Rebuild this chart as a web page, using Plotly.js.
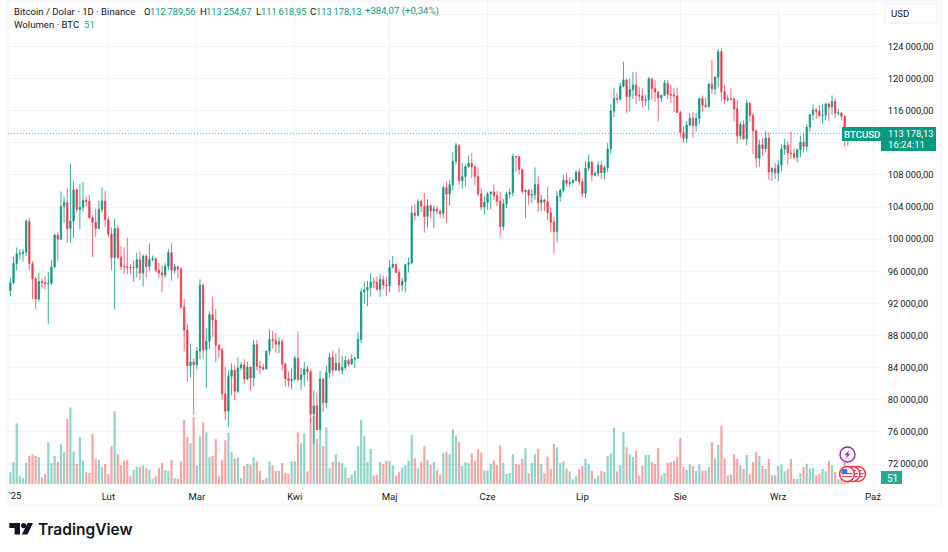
<!DOCTYPE html>
<html lang="pl">
  <head>
    <meta charset="UTF-8" />
    <title>BTCUSD</title>
    <script src="https://cdn.plot.ly/plotly-3.0.1.min.js"></script>
    <style>
      body { margin: 0; background: #fff; }
      #chart { width: 948px; height: 552px; }
    </style>
  </head>
  <body>
    <div id="chart"></div>
    <script>
      // daily candles from 2025-01-01 to 2025-09-23
      const firstDay = "2025-01-01";
      const opens = [
        93576,94591,96984,98174,98220,98363,102235,96954,95060,92552,94726,94599,94488,94516,96534,100504,99987,104077,104556,101331,102260,106143,103706,103960,104819,104714,102682,102087,101332,103703,104735,
        102429,100635,97700,101328,97763,96612,96554,96506,96444,96462,97430,95778,97869,96608,97500,97569,96118,95780,95539,96635,98333,96125,96577,96273,91552,88680,84250,84708,
        84349,86064,94270,86220,87281,90606,89931,86801,86222,80734,78595,82932,83680,81067,83969,84343,82579,84075,82718,86854,84167,84043,83832,86054,87498,87392,86909,87232,84424,82648,82390,
        82550,85159,82516,83102,83843,83504,78214,79235,76271,82573,79627,83404,85287,83684,84542,83669,84033,84895,84450,85063,85174,87518,93442,93691,93980,94638,94628,93750,94978,94284,
        94207,96489,96887,95856,94277,94733,96834,97032,103241,102970,104696,104107,102812,104169,103539,103744,103489,103191,106446,105606,106791,109678,111673,107287,107791,109035,109440,108994,107802,105641,103998,
        104591,105642,105882,105432,104731,101575,104390,105615,105793,110294,110257,108686,105929,106090,105472,105552,106794,104551,104886,104658,103297,102120,100963,105333,106083,107340,106947,107047,107296,108356,
        107146,105681,108849,109584,107984,108198,109203,108262,108922,111233,115968,117516,117435,119086,119841,117758,118630,119177,117924,117840,117265,117380,119954,118755,118340,117614,117919,119415,118062,117950,117840,
        115764,113297,112546,114208,115071,114141,115028,117496,116688,116498,119306,118731,120172,123344,118359,117398,117491,117453,116252,112872,114271,112500,116935,115438,113493,110111,111763,111262,112566,108377,108816,
        108246,109237,111240,111705,110730,110659,110187,111137,112065,111546,113960,115507,116101,115950,115407,115444,116843,116468,117137,115688,115721,115306,112789.56,
      ];
      const highs = [
        95151,97839,98976,98735,98813,102482,102712,97258,95349,95836,95050,95400,95900,97371,100681,100866,105950,105300,106422,109400,107240,106394,106850,107120,105286,105500,103000,103800,104800,106457,106012,
        102783,101456,102500,101700,99120,99000,100137,96880,97323,98345,98478,98119,98119,99475,97970,97725,97046,96753,97000,98800,99500,96900,96650,96500,92540,89400,87000,85120,
        86558,95000,94416,88911,91000,92810,91283,86893,86500,84123,83617,84539,84336,85309,84672,85051,84756,84075,87453,87443,84850,84513,86094,88765,88542,88292,87756,87515,84624,83534,83943,
        85487,88500,83942,84720,84230,83704,81119,80867,83588,82700,84247,85856,86100,85785,86496,85500,85470,85100,85677,85320,88460,93888,94696,94785,95758,95199,95369,95630,95461,95228,
        97437,97895,96935,96304,95199,96920,97732,104145,104361,104984,104937,105747,104997,104362,104192,104150,103711,106660,107108,107320,110797,111980,111800,109500,109300,110422,110718,109313,108910,106313,105350,
        105900,105941,106800,106000,105900,105000,105970,106300,110620,110400,110400,108800,106182,106210,106200,108952,107771,105550,105000,106500,104000,102800,106000,106300,108000,108272,107700,107500,108530,108800,
        107550,109750,110500,109750,108450,109700,109700,109200,111980,116800,118870,118200,119450,122100,119940,120000,120800,120850,118950,118856,118000,120200,120100,119800,118500,118000,119800,119800,119250,118800,118900,
        116000,114000,114700,115700,115800,115700,117600,117900,117630,119450,122300,120300,123700,123800,119200,118000,118780,117600,117300,114600,114800,117400,117000,115700,113700,112400,112600,113500,113300,108950,109500,
        109900,111800,112500,112200,113400,111300,111300,112900,113250,114300,115600,116800,116300,116700,116800,117000,117000,117900,117500,116200,115800,115400,113254.67,
      ];
      const lows = [
        92870,94392,96100,97500,97232,97900,96132,92500,91220,92206,93831,93712,89470,94306,96500,97300,99950,102000,99518,99560,100119,103339,101262,103500,104106,102520,97777,100272,101328,103321,101560,
        100279,96150,91231,97500,96155,95650,95620,95688,94713,95256,94876,94088,95217,96000,97200,95900,95205,93388,95200,96155,94830,95700,95130,91300,86050,82256,82786,78140,
        83824,85050,85117,81500,86334,87836,84667,85218,80000,77459,76606,80607,79939,80818,83639,81981,82456,81134,81669,83647,83175,83674,83794,85541,86346,85861,85800,83585,81644,81565,81278,
        82429,82320,81211,81659,82372,77153,74508,76239,74620,78464,78936,82769,83030,83690,83600,83111,83736,84120,84364,83949,85143,87076,91935,91660,92855,93870,93602,92800,93742,92910,
        93400,96350,95753,93377,93514,93377,95840,96876,102315,102817,103346,100818,101461,102602,101383,103100,102612,102600,102000,104170,106100,109285,106800,106262,106600,108900,107569,106761,105322,103621,103080,
        103700,103700,104900,104150,100372,101100,103900,105070,105330,108350,108100,105671,102664,104300,104500,104900,103400,103500,103500,102345,100837,98200,99600,104650,105800,106600,106500,106800,107200,106750,
        105250,105100,108500,107250,107800,107800,107500,107460,108350,110600,115200,116900,117250,118900,115736,115900,117450,116850,117200,116450,116600,116100,117300,117100,114700,117100,117800,117400,116950,115800,115700,
        112700,112000,111920,114100,112650,113400,114300,115900,116400,116450,118100,118000,118900,117200,116800,117100,117250,114700,111900,112450,112400,111700,114650,110600,108900,109000,110400,110800,107400,107300,107500,
        107250,108400,110500,109300,109950,109900,109600,110200,110800,110900,113400,114800,115000,115200,114400,114800,114700,115500,115100,115400,114800,111500,111618.95,
      ];
      const closes = [
        94591,96984,98174,98220,98363,102235,96954,95060,92552,94726,94599,94488,94516,96534,100504,99987,104077,104556,101331,102260,106143,103706,103960,104819,104714,102682,102087,101332,103703,104735,102429,
        100635,97700,101328,97763,96612,96554,96506,96444,96462,97430,95778,97869,96608,97500,97569,96118,95780,95539,96635,98333,96125,96577,96273,91552,88680,84250,84708,84349,
        86064,94270,86220,87281,90606,89931,86801,86222,80734,78595,82932,83680,81067,83969,84343,82579,84075,82718,86854,84167,84043,83832,86054,87498,87392,86909,87232,84424,82648,82390,82550,
        85159,82516,83102,83843,83504,78214,79235,76271,82573,79627,83404,85287,83684,84542,83669,84033,84895,84450,85063,85174,87518,93442,93691,93980,94638,94628,93750,94978,94284,94207,
        96489,96887,95856,94277,94733,96834,97032,103241,102970,104696,104107,102812,104169,103539,103744,103489,103191,106446,105606,106791,109678,111673,107287,107791,109035,109440,108994,107802,105641,103998,104591,
        105642,105882,105432,104731,101575,104390,105615,105793,110294,110257,108686,105929,106090,105472,105552,106794,104551,104886,104658,103297,102120,100963,105333,106083,107340,106947,107047,107296,108356,107146,
        105681,108849,109584,107984,108198,109203,108262,108922,111233,115968,117516,117435,119086,119841,117758,118630,119177,117924,117840,117265,117380,119954,118755,118340,117614,117919,119415,118062,117950,117840,115764,
        113297,112546,114208,115071,114141,115028,117496,116688,116498,119306,118731,120172,123344,118359,117398,117491,117453,116252,112872,114271,112500,116935,115438,113493,110111,111763,111262,112566,108377,108816,108246,
        109237,111240,111705,110730,110659,110187,111137,112065,111546,113960,115507,116101,115950,115407,115444,116843,116468,117137,115688,115721,115306,112789.56,113178.13,
      ];
      const volumes = [
        117,217,607,83,60,210,280,297,280,270,67,100,420,210,280,220,397,320,650,767,327,200,470,233,117,110,500,250,240,170,200,
        100,377,727,297,187,233,240,77,140,170,170,187,157,140,53,77,157,210,140,130,240,60,53,227,640,470,410,670,
        187,477,617,517,267,280,450,77,240,437,510,320,257,267,60,180,200,193,267,227,130,40,60,227,187,130,130,210,110,100,227,
        227,517,407,507,127,657,680,450,410,380,567,160,220,297,220,210,163,60,93,133,377,640,477,220,350,83,93,220,200,233,
        227,187,83,117,163,187,233,490,257,157,220,377,240,193,220,140,93,307,320,297,547,483,420,180,220,210,307,233,350,313,133,
        133,203,233,187,383,210,100,110,297,203,193,250,357,110,210,297,350,203,110,273,150,400,367,210,227,157,127,47,77,147,
        180,250,203,133,53,87,133,120,280,307,560,127,187,520,367,297,270,333,87,187,290,290,220,203,357,87,110,210,220,233,273,
        460,170,143,197,180,133,197,133,133,170,420,257,390,580,257,87,93,297,250,187,150,290,100,220,320,280,180,150,250,87,87,
        180,197,127,150,250,53,53,110,170,203,157,163,87,100,150,127,233,187,120,47,140,220,51,
      ];
      const priceTicks = [72000,76000,80000,84000,88000,92000,96000,100000,104000,108000,112000,116000,120000,124000,128000];
      const priceLabels = ["72\u2009000,00","76\u2009000,00","80\u2009000,00","84\u2009000,00","88\u2009000,00","92\u2009000,00","96\u2009000,00","100\u2009000,00","104\u2009000,00","108\u2009000,00","","116\u2009000,00","120\u2009000,00","124\u2009000,00",""];
      const monthTicks = ["2025-02-01","2025-03-01","2025-04-01","2025-05-01","2025-06-01","2025-07-01","2025-08-01","2025-09-01","2025-10-01"];
      const monthLabels = ["Lut","Mar","Kwi","Maj","Cze","Lip","Sie","Wrz","Paź"];

      const up = "#089981";
      const down = "#f5344a";
      const textColor = "#131722";
      const sans = "Roboto, sans-serif";

      const dates = closes.map((_, i) => {
        let d = new Date(firstDay + "T00:00:00Z");
        d.setUTCDate(d.getUTCDate() + i);
        return d.toISOString().slice(0, 10);
      });

      // page pixels to plot paper coordinates
      const plotL = 8, plotR = 881, plotT = 1, plotB = 484;
      const px = (x) => (x - plotL) / (plotR - plotL);
      const py = (y) => (plotB - y) / (plotB - plotT);

      function label(text, x, y, color, size, extra) {
        return Object.assign(
          {
            text: text,
            xref: "paper",
            yref: "paper",
            x: px(x - 1),
            y: py(y),
            xanchor: "left",
            yanchor: "middle",
            showarrow: false,
            borderpad: 0,
            font: { family: sans, size: size || 9.6, color: color || textColor },
          },
          extra || {}
        );
      }

      function box(x0, y0, x1, y1, fill, line, lineWidth) {
        return {
          type: "rect",
          xref: "paper",
          yref: "paper",
          x0: px(x0),
          x1: px(x1),
          y0: py(y0),
          y1: py(y1),
          fillcolor: fill,
          line: { color: line || fill, width: lineWidth === undefined ? 0 : lineWidth },
        };
      }

      function circle(cx, cy, r, fill, line, lineWidth) {
        return Object.assign(box(cx - r, cy - r, cx + r, cy + r, fill, line, lineWidth), { type: "circle" });
      }

      function poly(points, fill) {
        let d = points.map((p, i) => (i ? "L" : "M") + px(p[0]) + "," + py(p[1])).join(" ") + " Z";
        return { type: "path", xref: "paper", yref: "paper", path: d, fillcolor: fill, line: { width: 0 } };
      }

      function flag(cx, cy, withCanton) {
        let parts = [circle(cx, cy, 7.4, "#ffffff", down, 1.5)];
        parts.push(box(cx - 5.5, cy - 1, cx + 5.5, cy + 0.2, down));
        parts.push(box(cx - 5, cy + 2, cx + 5, cy + 3.1, down));
        if (withCanton) {
          parts.push(box(cx - 5.5, cy - 5, cx + 0.3, cy - 0.8, "#3179f5"));
        } else {
          parts.push(box(cx - 3.5, cy - 4, cx + 3.5, cy - 3, down));
        }
        return parts;
      }

      const shapes = [
        box(8, 1, 941, 505, "rgba(0,0,0,0)", "#eff1f4", 1),
        {
          type: "line",
          xref: "paper",
          yref: "y",
          x0: 0,
          x1: 1,
          y0: closes[closes.length - 1],
          y1: closes[closes.length - 1],
          line: { color: "rgba(8,153,129,0.7)", width: 1, dash: "1px,2px" },
        },
        box(842, 127, 881, 141, up),
        box(881, 127, 936, 151, up),
        box(881, 471, 902, 484, "#22ab94"),
        box(885, 4, 937, 23, "#ffffff", "#eff1f4", 1),
        circle(847.5, 454.5, 7.5, "#ffffff", "#9c27b0", 1.4),
        poly([[849.5,450],[844.5,455.2],[847.2,455.2],[845.5,459],[850.5,453.7],[847.8,453.7]], "#9c27b0"),
        ...flag(858, 474, false),
        ...flag(852.5, 474, false),
        ...flag(847, 474, true),
        poly([[9.3,523],[20,523],[20,534.5],[14.6,534.5],[14.6,528],[9.3,528]], "#131722"),
        circle(23.6, 525.6, 2.6, "#131722"),
        poly([[27.6,523],[33,523],[27.5,534.5],[21.8,534.5]], "#131722"),
      ];

      const annotations = [
        label("Bitcoin / Dolar · 1D · Binance", 14, 11.5),
        label("O", 143.5, 11.5),
        label("112\u2009789,56", 150, 11.5, up, 9.3),
        label("H", 199.5, 11.5),
        label("113\u2009254,67", 206, 11.5, up, 9.3),
        label("L", 255.5, 11.5),
        label("111\u2009618,95", 261, 11.5, up, 9.3),
        label("C", 310, 11.5),
        label("113\u2009178,13", 316, 11.5, up, 9.3),
        label("+384,07 (+0,34%)", 365, 11.5, up),
        label("Wolumen · BTC", 14, 25),
        label("51", 83.5, 25, "#22ab94"),
        label("USD", 891, 13.5),
        label("BTCUSD", 844, 134, "#ffffff", 9.6, { font: { family: sans, size: 9.6, color: "#ffffff", weight: 500 } }),
        label("113\u2009178,13", 888, 133.5, "#ffffff", 9.3),
        label("16:24:11", 888, 144.5, "#ffffff", 9.6),
        label("51", 887, 478, "#ffffff", 10),
        label("'25", 9, 495, textColor, 9.6),
        label("TradingView", 38, 529, "#131722", 15.5, {
          font: { family: "Inter, sans-serif", size: 15.5, color: "#131722", weight: 600 },
        }),
      ];

      const volumeTrace = {
        type: "bar",
        x: dates,
        y: volumes,
        yaxis: "y2",
        marker: {
          color: closes.map((c, i) => (c >= opens[i] ? "rgba(34,171,148,0.5)" : "rgba(245,75,75,0.5)")),
          line: { width: 0 },
        },
        hoverinfo: "skip",
      };

      const candleTrace = {
        type: "candlestick",
        x: dates,
        open: opens,
        high: highs,
        low: lows,
        close: closes,
        yaxis: "y",
        whiskerwidth: 0,
        increasing: { line: { color: "rgba(8,153,129,0.8)", width: 1 }, fillcolor: up },
        decreasing: { line: { color: "rgba(245,52,74,0.75)", width: 1 }, fillcolor: down },
        hoverinfo: "skip",
      };

      const layout = {
        width: 948,
        height: 552,
        margin: { l: plotL, r: 948 - plotR, t: plotT, b: 552 - plotB },
        paper_bgcolor: "#ffffff",
        plot_bgcolor: "#ffffff",
        showlegend: false,
        hovermode: false,
        bargap: 0.3,
        boxgap: 0.4,
        font: { family: sans, color: textColor },
        xaxis: {
          type: "date",
          range: ["2024-12-31 06:00", "2025-10-03 12:00"],
          rangeslider: { visible: false },
          tickmode: "array",
          tickvals: monthTicks,
          ticktext: monthLabels,
          tickangle: 0,
          ticks: "outside",
          ticklen: 3,
          tickcolor: "rgba(0,0,0,0)",
          showgrid: true,
          gridcolor: "#f3f4f6",
          gridwidth: 1,
          zeroline: false,
          showline: false,
          tickfont: { family: sans, size: 9.6, color: textColor },
        },
        yaxis: {
          overlaying: "y2",
          side: "right",
          anchor: "x",
          range: [69510, 129660],
          tickmode: "array",
          tickvals: priceTicks,
          ticktext: priceLabels,
          ticks: "outside",
          ticklen: 4,
          tickcolor: "rgba(0,0,0,0)",
          showgrid: true,
          gridcolor: "#f3f4f6",
          gridwidth: 1,
          zeroline: false,
          showline: false,
          tickfont: { family: sans, size: 9.3, color: textColor },
        },
        yaxis2: {
          domain: [0, 1],
          range: [0, 4830],
          anchor: "x",
          side: "left",
          visible: false,
          showgrid: false,
          zeroline: false,
        },
        shapes: shapes,
        annotations: annotations,
      };

      Plotly.newPlot("chart", [volumeTrace, candleTrace], layout, { displayModeBar: false, staticPlot: true });
    </script>
  </body>
</html>
